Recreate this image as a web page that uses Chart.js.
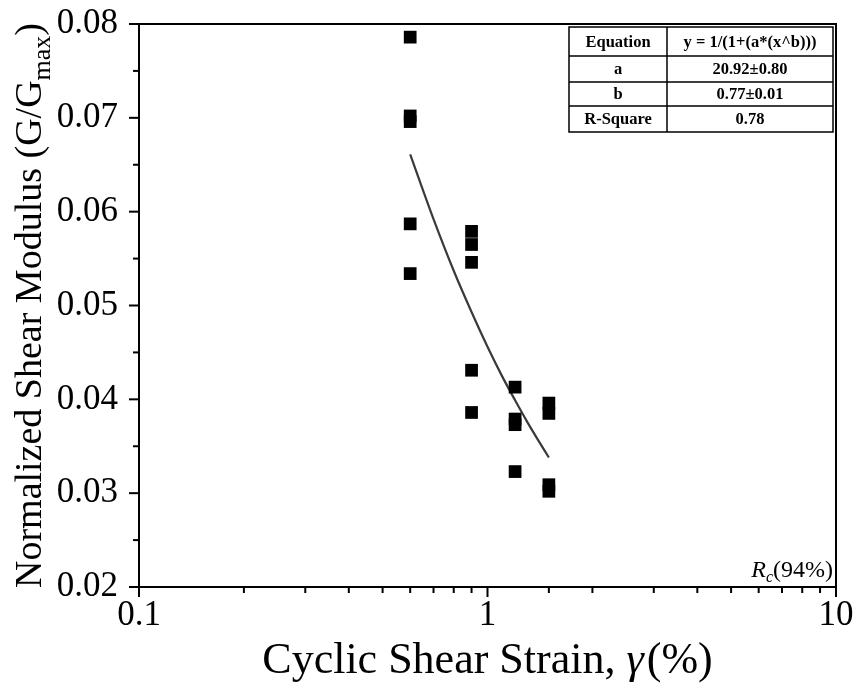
<!DOCTYPE html>
<html>
<head>
<meta charset="utf-8">
<script src="https://cdn.jsdelivr.net/npm/chart.js@4.4.1/dist/chart.umd.min.js"></script>
<style>
  body { margin: 0; background: #fff; }
  #chart { display: block; }
</style>
</head>
<body>
<canvas id="chart" width="860" height="688"></canvas>
<script>
// measured points (cyclic shear strain %, G/Gmax)
const strainValues = [0.6, 0.6, 0.6, 0.6, 0.6,
                      0.9, 0.9, 0.9, 0.9, 0.9,
                      1.2, 1.2, 1.2, 1.2,
                      1.5, 1.5, 1.5, 1.5];
const modulusValues = [0.0786, 0.0702, 0.0696, 0.0587, 0.0534,
                       0.0579, 0.0565, 0.0546, 0.0431, 0.0386,
                       0.0413, 0.0379, 0.0373, 0.0323,
                       0.0396, 0.0385, 0.0309, 0.0302];

// fitted curve
const fitStrain = [0.6, 0.7, 0.8, 0.9, 1.0, 1.1, 1.2, 1.3, 1.4, 1.5];
const fitModulus = [0.0661, 0.0592, 0.0537, 0.0493, 0.0456, 0.0425, 0.0399, 0.0376, 0.0356, 0.0338];

const xTickLabels = [0.1, 1, 10];
const yTickValues = [0.02, 0.03, 0.04, 0.05, 0.06, 0.07, 0.08];

const tableLabels = ["Equation", "a", "b", "R-Square"];
const tableValues = ["y = 1/(1+(a*(x^b)))", "20.92\u00b10.80", "0.77\u00b10.01", "0.78"];

const serif = "'Liberation Serif', 'Times New Roman', serif";

function toPoints(xs, ys) {
    return xs.map((x, i) => ({ x: x, y: ys[i] }));
}

// draws frame, tick marks, axis titles, table and the Rc note
const decorPlugin = {
    id: "decor",
    afterDraw(chart) {
        const ctx = chart.ctx;
        const area = chart.chartArea;
        const xs = chart.scales.x;
        const ys = chart.scales.y;
        ctx.save();
        ctx.strokeStyle = "#000";
        ctx.lineWidth = 2;
        ctx.strokeRect(area.left, area.top, area.right - area.left, area.bottom - area.top);

        // x ticks (log)
        xs.ticks.forEach(t => {
            const px = xs.getPixelForValue(t.value);
            const lg = Math.log10(t.value);
            const major = Math.abs(lg - Math.round(lg)) < 1e-6;
            const len = major ? 10 : 6;
            ctx.beginPath();
            ctx.moveTo(px, area.bottom);
            ctx.lineTo(px, area.bottom + len);
            ctx.stroke();
        });
        // y ticks, minor every 0.005
        for (let i = 0; i <= 12; i++) {
            const v = 0.02 + i * 0.005;
            const py = ys.getPixelForValue(v);
            const len = i % 2 === 0 ? 10 : 6;
            ctx.beginPath();
            ctx.moveTo(area.left, py);
            ctx.lineTo(area.left - len, py);
            ctx.stroke();
        }

        ctx.fillStyle = "#000";
        // x title
        const xMid = (area.left + area.right) / 2;
        const xPart1 = "Cyclic Shear Strain, ";
        const xPart2 = "\u03b3";
        const xPart3 = "(%)";
        ctx.font = "44px " + serif;
        const w1 = ctx.measureText(xPart1).width;
        const w3 = ctx.measureText(xPart3).width;
        ctx.font = "italic 44px " + serif;
        const w2 = ctx.measureText(xPart2).width;
        let xx = xMid - (w1 + w2 + w3 + 3) / 2;
        const xy = 673;
        ctx.textBaseline = "alphabetic";
        ctx.textAlign = "left";
        ctx.font = "44px " + serif;
        ctx.fillText(xPart1, xx, xy);
        ctx.font = "italic 44px " + serif;
        ctx.fillText(xPart2, xx + w1, xy);
        ctx.font = "44px " + serif;
        ctx.fillText(xPart3, xx + w1 + w2 + 3, xy);

        // y title, rotated
        const yMid = (area.top + area.bottom) / 2;
        const yPart1 = "Normalized Shear Modulus (G/G";
        const yPart2 = "max";
        const yPart3 = ")";
        ctx.font = "38px " + serif;
        const v1 = ctx.measureText(yPart1).width;
        const v3 = ctx.measureText(yPart3).width;
        ctx.font = "26px " + serif;
        const v2 = ctx.measureText(yPart2).width;
        ctx.save();
        ctx.translate(41, yMid);
        ctx.rotate(-Math.PI / 2);
        let yx = -(v1 + v2 + v3) / 2;
        ctx.font = "38px " + serif;
        ctx.fillText(yPart1, yx, 0);
        ctx.font = "26px " + serif;
        ctx.fillText(yPart2, yx + v1, 9);
        ctx.font = "38px " + serif;
        ctx.fillText(yPart3, yx + v1 + v2, 0);
        ctx.restore();

        // Rc note, right aligned to the frame
        ctx.textAlign = "left";
        ctx.font = "italic 24px " + serif;
        const rw = ctx.measureText("R").width;
        ctx.font = "italic 16px " + serif;
        const cw = ctx.measureText("c").width;
        ctx.font = "24px " + serif;
        const pw = ctx.measureText("(94%)").width;
        const rx = area.right - 3 - (rw + cw + pw);
        const ry = area.bottom - 10;
        ctx.font = "italic 24px " + serif;
        ctx.fillText("R", rx, ry);
        ctx.font = "italic 16px " + serif;
        ctx.fillText("c", rx + rw, ry + 5);
        ctx.font = "24px " + serif;
        ctx.fillText("(94%)", rx + rw + cw, ry);

        // table
        const tLeft = area.right - 267;
        const tRight = area.right - 3;
        const tTop = area.top + 3;
        const colSplit = tLeft + 98;
        const rowH = [29, 26, 24, 26];
        const total = rowH.reduce((a, b) => a + b, 0);
        ctx.fillStyle = "#fff";
        ctx.fillRect(tLeft, tTop, tRight - tLeft, total);
        ctx.strokeStyle = "#000";
        ctx.lineWidth = 1.5;
        ctx.strokeRect(tLeft, tTop, tRight - tLeft, total);
        ctx.beginPath();
        ctx.moveTo(colSplit, tTop);
        ctx.lineTo(colSplit, tTop + total);
        let ry2 = tTop;
        for (let i = 0; i < rowH.length - 1; i++) {
            ry2 += rowH[i];
            ctx.moveTo(tLeft, ry2);
            ctx.lineTo(tRight, ry2);
        }
        ctx.stroke();
        ctx.fillStyle = "#000";
        ctx.textAlign = "center";
        ctx.textBaseline = "middle";
        ctx.font = "bold 16.5px " + serif;
        let cy = tTop;
        tableLabels.forEach((lab, i) => {
            const mid = cy + rowH[i] / 2 + 1;
            ctx.fillText(lab, (tLeft + colSplit) / 2, mid);
            ctx.fillText(tableValues[i], (colSplit + tRight) / 2, mid);
            cy += rowH[i];
        });
        ctx.restore();
    }
};

new Chart(document.getElementById("chart"), {
    type: "scatter",
    data: {
        datasets: [
            {
                label: "measured",
                data: toPoints(strainValues, modulusValues),
                pointStyle: "rect",
                pointRadius: 9,
                backgroundColor: "#000",
                borderWidth: 0
            },
            {
                label: "fit",
                data: toPoints(fitStrain, fitModulus),
                showLine: true,
                pointRadius: 0,
                borderColor: "#3a3a3a",
                borderWidth: 2.2,
                cubicInterpolationMode: "monotone"
            }
        ]
    },
    options: {
        responsive: false,
        animation: false,
        layout: { padding: { top: 24, right: 24, left: 0, bottom: 0 } },
        plugins: {
            legend: { display: false },
            tooltip: { enabled: false }
        },
        scales: {
            x: {
                type: "logarithmic",
                min: 0.1,
                max: 10,
                grid: { display: false, drawTicks: false },
                border: { display: false },
                ticks: {
                    autoSkip: false,
                    maxRotation: 0,
                    padding: 8,
                    color: "#000",
                    font: { family: serif, size: 35 },
                    callback: function (value) {
                        const v = Number(value.toPrecision(6));
                        return xTickLabels.includes(v) ? String(v) : "";
                    }
                },
                afterFit: function (scale) {
                    scale.height = 101;
                    scale.paddingLeft = 0;
                    scale.paddingRight = 0;
                }
            },
            y: {
                min: 0.02,
                max: 0.08,
                grid: { display: false, drawTicks: false },
                border: { display: false },
                afterBuildTicks: function (scale) {
                    scale.ticks = yTickValues.map(v => ({ value: v }));
                },
                ticks: {
                    padding: 21,
                    color: "#000",
                    font: { family: serif, size: 35 },
                    callback: function (value) { return value.toFixed(2); }
                },
                afterFit: function (scale) {
                    scale.width = 139;
                    scale.paddingTop = 0;
                    scale.paddingBottom = 0;
                }
            }
        }
    },
    plugins: [decorPlugin]
});
</script>
</body>
</html>
